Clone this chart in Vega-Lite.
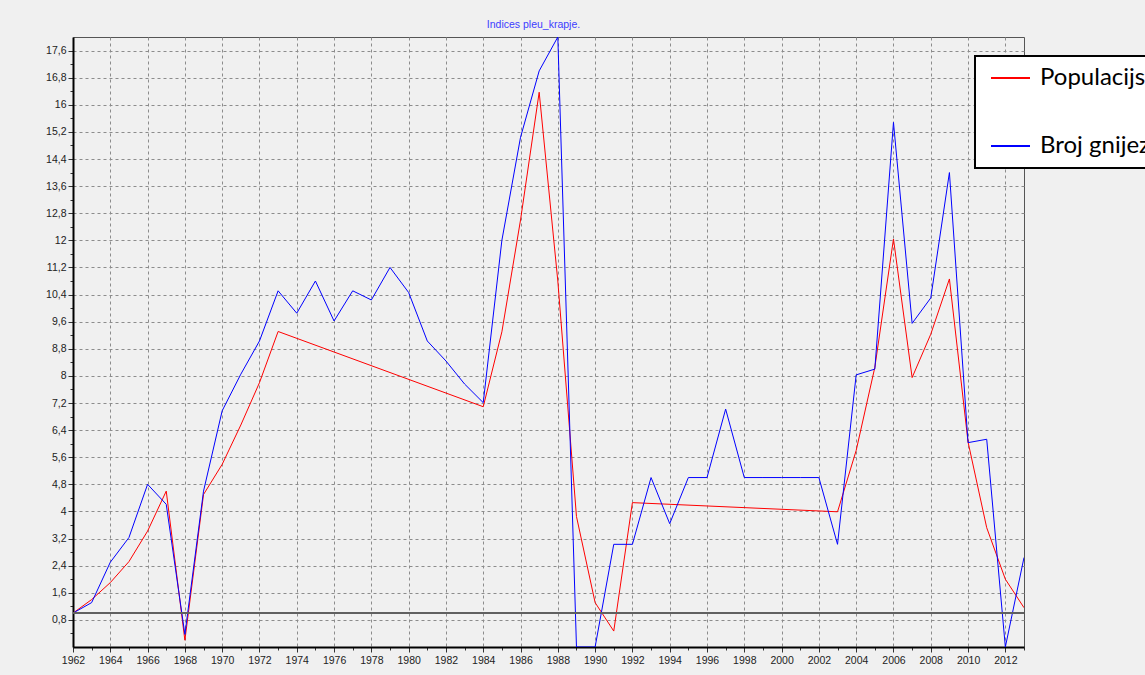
{
  "$schema": "https://vega.github.io/schema/vega-lite/v6.json",
  "autosize": {"type": "none"},
  "padding": {"left": 73, "top": 37, "right": 121, "bottom": 28},
  "width": 951,
  "height": 610,
  "background": "#f0f0f0",
  "title": {"text": "Indices pleu_krapje.", "color": "#3c3cff", "font": "Liberation Sans", "fontSize": 10.5, "fontWeight": "normal", "anchor": "middle", "dx": -15, "offset": 7},
  "config": {
    "view": {"stroke": "#555555", "strokeWidth": 1, "fill": "#f0f0f0"},
    "axis": {"labelFont": "Liberation Sans", "labelFontSize": 10.5, "labelColor": "#222222", "domainColor": "#000000", "domainWidth": 2, "tickColor": "#333333", "gridColor": "#8c8c8c", "gridDash": [3, 3], "gridWidth": 1, "title": null, "labelOverlap": false}
  },
  "data": {"values": [
    {"year": 1962, "series": "Populacijski indeks", "value": 1.0},
    {"year": 1963, "series": "Populacijski indeks", "value": 1.4},
    {"year": 1964, "series": "Populacijski indeks", "value": 1.9},
    {"year": 1965, "series": "Populacijski indeks", "value": 2.52},
    {"year": 1966, "series": "Populacijski indeks", "value": 3.42},
    {"year": 1967, "series": "Populacijski indeks", "value": 4.6},
    {"year": 1968, "series": "Populacijski indeks", "value": 0.2},
    {"year": 1969, "series": "Populacijski indeks", "value": 4.5},
    {"year": 1970, "series": "Populacijski indeks", "value": 5.39},
    {"year": 1971, "series": "Populacijski indeks", "value": 6.55},
    {"year": 1972, "series": "Populacijski indeks", "value": 7.8},
    {"year": 1973, "series": "Populacijski indeks", "value": 9.31},
    {"year": 1984, "series": "Populacijski indeks", "value": 7.09},
    {"year": 1985, "series": "Populacijski indeks", "value": 9.3},
    {"year": 1986, "series": "Populacijski indeks", "value": 12.6},
    {"year": 1987, "series": "Populacijski indeks", "value": 16.37},
    {"year": 1988, "series": "Populacijski indeks", "value": 10.8},
    {"year": 1989, "series": "Populacijski indeks", "value": 3.85},
    {"year": 1990, "series": "Populacijski indeks", "value": 1.31},
    {"year": 1991, "series": "Populacijski indeks", "value": 0.47},
    {"year": 1992, "series": "Populacijski indeks", "value": 4.26},
    {"year": 2003, "series": "Populacijski indeks", "value": 3.99},
    {"year": 2004, "series": "Populacijski indeks", "value": 5.8},
    {"year": 2005, "series": "Populacijski indeks", "value": 8.25},
    {"year": 2006, "series": "Populacijski indeks", "value": 12.04},
    {"year": 2007, "series": "Populacijski indeks", "value": 7.95},
    {"year": 2008, "series": "Populacijski indeks", "value": 9.23},
    {"year": 2009, "series": "Populacijski indeks", "value": 10.86},
    {"year": 2010, "series": "Populacijski indeks", "value": 6.05},
    {"year": 2011, "series": "Populacijski indeks", "value": 3.52},
    {"year": 2012, "series": "Populacijski indeks", "value": 2.0},
    {"year": 2013, "series": "Populacijski indeks", "value": 1.16},
    {"year": 1962, "series": "Broj gnijezda", "value": 1.0},
    {"year": 1963, "series": "Broj gnijezda", "value": 1.31},
    {"year": 1964, "series": "Broj gnijezda", "value": 2.5},
    {"year": 1965, "series": "Broj gnijezda", "value": 3.23},
    {"year": 1966, "series": "Broj gnijezda", "value": 4.8},
    {"year": 1967, "series": "Broj gnijezda", "value": 4.21},
    {"year": 1968, "series": "Broj gnijezda", "value": 0.37},
    {"year": 1969, "series": "Broj gnijezda", "value": 4.6},
    {"year": 1970, "series": "Broj gnijezda", "value": 6.97},
    {"year": 1971, "series": "Broj gnijezda", "value": 8.05},
    {"year": 1972, "series": "Broj gnijezda", "value": 9.03},
    {"year": 1973, "series": "Broj gnijezda", "value": 10.51},
    {"year": 1974, "series": "Broj gnijezda", "value": 9.85},
    {"year": 1975, "series": "Broj gnijezda", "value": 10.8},
    {"year": 1976, "series": "Broj gnijezda", "value": 9.62},
    {"year": 1977, "series": "Broj gnijezda", "value": 10.51},
    {"year": 1978, "series": "Broj gnijezda", "value": 10.24},
    {"year": 1979, "series": "Broj gnijezda", "value": 11.2},
    {"year": 1980, "series": "Broj gnijezda", "value": 10.46},
    {"year": 1981, "series": "Broj gnijezda", "value": 9.03},
    {"year": 1982, "series": "Broj gnijezda", "value": 8.44},
    {"year": 1983, "series": "Broj gnijezda", "value": 7.76},
    {"year": 1984, "series": "Broj gnijezda", "value": 7.21},
    {"year": 1985, "series": "Broj gnijezda", "value": 12.0},
    {"year": 1986, "series": "Broj gnijezda", "value": 15.04},
    {"year": 1987, "series": "Broj gnijezda", "value": 17.0},
    {"year": 1988, "series": "Broj gnijezda", "value": 18.0},
    {"year": 1989, "series": "Broj gnijezda", "value": 0.0},
    {"year": 1990, "series": "Broj gnijezda", "value": 0.0},
    {"year": 1991, "series": "Broj gnijezda", "value": 3.03},
    {"year": 1992, "series": "Broj gnijezda", "value": 3.03},
    {"year": 1993, "series": "Broj gnijezda", "value": 5.0},
    {"year": 1994, "series": "Broj gnijezda", "value": 3.64},
    {"year": 1995, "series": "Broj gnijezda", "value": 5.0},
    {"year": 1996, "series": "Broj gnijezda", "value": 5.0},
    {"year": 1997, "series": "Broj gnijezda", "value": 7.02},
    {"year": 1998, "series": "Broj gnijezda", "value": 5.0},
    {"year": 1999, "series": "Broj gnijezda", "value": 5.0},
    {"year": 2000, "series": "Broj gnijezda", "value": 5.0},
    {"year": 2001, "series": "Broj gnijezda", "value": 5.0},
    {"year": 2002, "series": "Broj gnijezda", "value": 5.0},
    {"year": 2003, "series": "Broj gnijezda", "value": 3.03},
    {"year": 2004, "series": "Broj gnijezda", "value": 8.03},
    {"year": 2005, "series": "Broj gnijezda", "value": 8.2},
    {"year": 2006, "series": "Broj gnijezda", "value": 15.48},
    {"year": 2007, "series": "Broj gnijezda", "value": 9.55},
    {"year": 2008, "series": "Broj gnijezda", "value": 10.3},
    {"year": 2009, "series": "Broj gnijezda", "value": 14.0},
    {"year": 2010, "series": "Broj gnijezda", "value": 6.03},
    {"year": 2011, "series": "Broj gnijezda", "value": 6.13},
    {"year": 2012, "series": "Broj gnijezda", "value": 0.0},
    {"year": 2013, "series": "Broj gnijezda", "value": 2.64}
  ]},
  "layer": [
    {
      "mark": {"type": "line", "strokeWidth": 1, "clip": true},
      "encoding": {
        "x": {
          "field": "year", "type": "quantitative",
          "scale": {"domain": [1962, 2013], "nice": false, "zero": false},
          "axis": {
            "values": [1962,1963,1964,1965,1966,1967,1968,1969,1970,1971,1972,1973,1974,1975,1976,1977,1978,1979,1980,1981,1982,1983,1984,1985,1986,1987,1988,1989,1990,1991,1992,1993,1994,1995,1996,1997,1998,1999,2000,2001,2002,2003,2004,2005,2006,2007,2008,2009,2010,2011,2012,2013],
            "labelExpr": "datum.value % 2 == 0 ? '' + datum.value : ''",
            "gridOpacity": {"condition": {"test": "datum.value % 2 == 1", "value": 0}, "value": 1},
            "tickSize": {"condition": {"test": "datum.value % 2 == 1", "value": 3}, "value": 5},
            "labelPadding": 3,
            "labelFlush": false
          }
        },
        "y": {
          "field": "value", "type": "quantitative",
          "scale": {"domain": [0, 18], "nice": false, "zero": true},
          "axis": {
            "values": [0.4,0.8,1.2,1.6,2.0,2.4,2.8,3.2,3.6,4.0,4.4,4.8,5.2,5.6,6.0,6.4,6.8,7.2,7.6,8.0,8.4,8.8,9.2,9.6,10.0,10.4,10.8,11.2,11.6,12.0,12.4,12.8,13.2,13.6,14.0,14.4,14.8,15.2,15.6,16.0,16.4,16.8,17.2,17.6],
            "labelExpr": "round(datum.value * 10) % 8 == 0 ? replace(format(datum.value, '~g'), '.', ',') : ''",
            "gridOpacity": {"condition": {"test": "round(datum.value * 10) % 8 != 0", "value": 0}, "value": 1},
            "tickSize": {"condition": {"test": "round(datum.value * 10) % 8 != 0", "value": 3}, "value": 5},
            "labelPadding": 2
          }
        },
        "color": {
          "field": "series", "type": "nominal",
          "scale": {"domain": ["Populacijski indeks", "Broj gnijezda"], "range": ["#ff0000", "#0000ff"]},
          "legend": {
            "orient": "none", "legendX": 902, "legendY": 19,
            "title": null,
            "fillColor": "#ffffff", "strokeColor": "#000000",
            "padding": 10,
            "symbolType": "M-0.6,0H3.3",
            "symbolSize": 400,
            "symbolStrokeWidth": 2,
            "labelFont": "Lato", "labelFontSize": 24, "labelColor": "#000000",
            "labelOffset": 31,
            "rowPadding": 44,
            "encode": {
              "symbols": {"update": {"stroke": {"signal": "datum.value === 'Broj gnijezda' ? '#558ed5' : '#ff0000'"}, "fill": {"value": "transparent"}, "strokeWidth": {"value": 2}}},
              "legend": {"update": {"strokeWidth": {"value": 2}}}
            }
          }
        }
      }
    },
    {
      "mark": {"type": "rule", "color": "#606060", "strokeWidth": 1.5},
      "encoding": {
        "y": {
          "datum": 1, "type": "quantitative",
          "axis": {
            "values": [0.4,0.8,1.2,1.6,2.0,2.4,2.8,3.2,3.6,4.0,4.4,4.8,5.2,5.6,6.0,6.4,6.8,7.2,7.6,8.0,8.4,8.8,9.2,9.6,10.0,10.4,10.8,11.2,11.6,12.0,12.4,12.8,13.2,13.6,14.0,14.4,14.8,15.2,15.6,16.0,16.4,16.8,17.2,17.6],
            "labelExpr": "round(datum.value * 10) % 8 == 0 ? replace(format(datum.value, '~g'), '.', ',') : ''",
            "gridOpacity": {"condition": {"test": "round(datum.value * 10) % 8 != 0", "value": 0}, "value": 1},
            "tickSize": {"condition": {"test": "round(datum.value * 10) % 8 != 0", "value": 3}, "value": 5},
            "labelPadding": 2
          }
        }
      }
    }
  ]
}
